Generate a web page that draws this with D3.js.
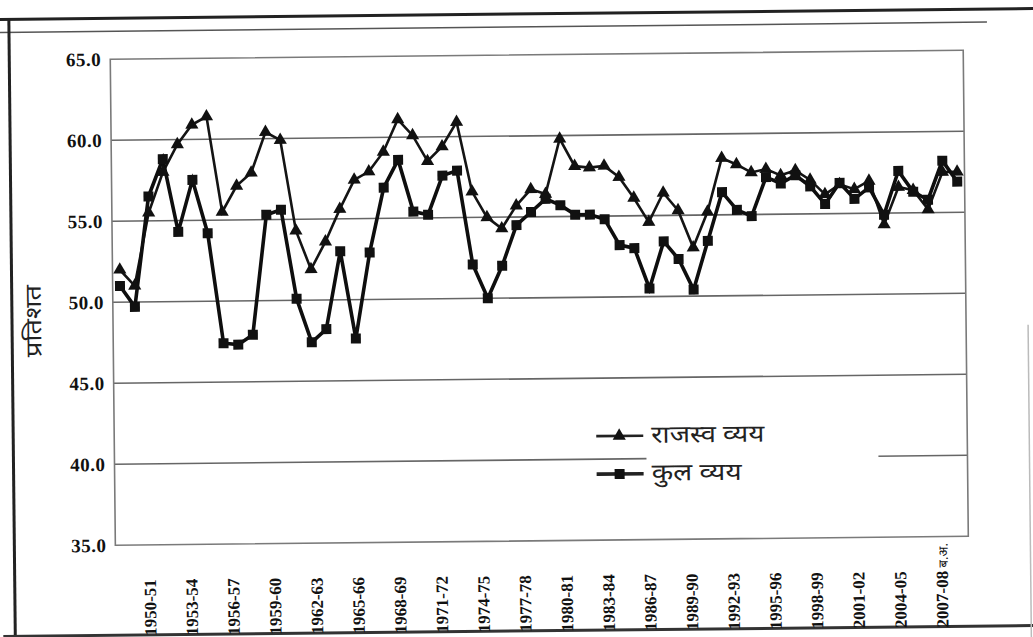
<!DOCTYPE html>
<html>
<head>
<meta charset="utf-8">
<script src="https://cdn.jsdelivr.net/npm/d3@7"></script>
<style>
  body { margin: 0; background: #fff; }
  svg { display: block; }
  .num { font-family: "Liberation Serif", "DejaVu Serif", serif; font-weight: bold; fill: #111; }
</style>
</head>
<body>
<div id="chart"></div>
<script>
// years on the x axis (last one is budget estimate)
var years = ["1950-51","1951-52","1952-53","1953-54","1954-55","1955-56","1956-57","1957-58","1958-59","1959-60",
  "1960-61","1961-62","1962-63","1963-64","1964-65","1965-66","1966-67","1967-68","1968-69","1969-70",
  "1970-71","1971-72","1972-73","1973-74","1974-75","1975-76","1976-77","1977-78","1978-79","1979-80",
  "1980-81","1981-82","1982-83","1983-84","1984-85","1985-86","1986-87","1987-88","1988-89","1989-90",
  "1990-91","1991-92","1992-93","1993-94","1994-95","1995-96","1996-97","1997-98","1998-99","1999-00",
  "2000-01","2001-02","2002-03","2003-04","2004-05","2005-06","2006-07","2007-08"];

// राजस्व व्यय (revenue expenditure), per cent
var revenueExp = [52.0,51.0,55.5,58.0,59.7,60.9,61.4,55.5,57.1,57.9,
  60.4,59.9,54.3,51.9,53.6,55.6,57.4,57.9,59.1,61.1,
  60.1,58.5,59.4,60.9,56.6,55.0,54.3,55.7,56.7,56.4,
  59.8,58.1,58.0,58.1,57.4,56.1,54.6,56.4,55.3,53.0,
  55.2,58.5,58.1,57.6,57.8,57.4,57.7,57.1,56.2,56.8,
  56.5,57.0,54.3,56.6,56.4,55.2,57.5,57.5];

// कुल व्यय (total expenditure), per cent
var totalExp = [51.0,49.7,56.5,58.8,54.3,57.5,54.2,47.4,47.3,47.9,
  55.3,55.6,50.1,47.4,48.2,53.0,47.6,52.9,56.9,58.6,
  55.4,55.2,57.6,57.9,52.1,50.0,52.0,54.5,55.3,56.1,
  55.7,55.1,55.1,54.8,53.2,53.0,50.5,53.4,52.3,50.4,
  53.4,56.4,55.3,54.9,57.3,56.9,57.4,56.7,55.6,56.9,
  55.9,56.6,54.9,57.6,56.3,55.8,58.2,56.9];

var xLabels = ["1950-51","1953-54","1956-57","1959-60","1962-63","1965-66","1968-69","1971-72","1974-75","1977-78",
  "1980-81","1983-84","1986-87","1989-90","1992-93","1995-96","1998-99","2001-02","2004-05","2007-08"];
var yTicks = [35, 40, 45, 50, 55, 60, 65];
var seriesNames = ["राजस्व व्यय", "कुल व्यय"];

var W = 1033, H = 637;
var pLeft = 113, pRight = 966, pTop = 55, pBottom = 541;
var devFont = "'Noto Sans Devanagari','Lohit Devanagari','Mangal','FreeSans','Noto Sans',sans-serif";

var svg = d3.select("#chart").append("svg")
    .attr("width", W).attr("height", H);

// the scan is a little skewed, so everything sits in a slightly turned group
var g = svg.append("g").attr("transform", "rotate(-0.6," + (W/2) + "," + (H/2) + ")");

// page frame lines
g.append("line").attr("x1", -20).attr("x2", W + 20).attr("y1", 14).attr("y2", 14)
    .attr("stroke", "#222").attr("stroke-width", 3);
g.append("line").attr("x1", -20).attr("x2", 990).attr("y1", 27).attr("y2", 27)
    .attr("stroke", "#555").attr("stroke-width", 1.5);
g.append("line").attr("x1", 12).attr("x2", 12).attr("y1", 14).attr("y2", H + 20)
    .attr("stroke", "#222").attr("stroke-width", 3);
g.append("line").attr("x1", 0).attr("x2", W + 20).attr("y1", 631).attr("y2", 631)
    .attr("stroke", "#333").attr("stroke-width", 3);
g.append("line").attr("x1", 1028).attr("x2", 1028).attr("y1", 330).attr("y2", H + 20)
    .attr("stroke", "#bbb").attr("stroke-width", 1.5);

var x = d3.scaleBand().domain(years).range([pLeft, pRight]).padding(0);
var cx = function(d) { return x(d) + x.bandwidth() / 2; };
var y = d3.scaleLinear().domain([35, 65]).range([pBottom, pTop]);
var labelX = d3.scalePoint().domain(xLabels).range([pLeft + 34, pRight - 27]);

// gridlines
g.append("g").selectAll("line").data(yTicks.slice(1, -1)).enter().append("line")
    .attr("x1", pLeft).attr("x2", pRight)
    .attr("y1", function(d) { return y(d); }).attr("y2", function(d) { return y(d); })
    .attr("stroke", "#666").attr("stroke-width", 1.6);

// plot border
g.append("rect").attr("x", pLeft).attr("y", pTop)
    .attr("width", pRight - pLeft).attr("height", pBottom - pTop)
    .attr("fill", "none").attr("stroke", "#7a7a7a").attr("stroke-width", 1.6);

// y axis labels
var yAxis = g.append("g").attr("transform", "translate(" + pLeft + ",0)")
    .call(d3.axisLeft(y).tickValues(yTicks).tickFormat(d3.format(".1f")).tickSize(0).tickPadding(9));
yAxis.select(".domain").remove();
yAxis.attr("font-family", null).attr("font-size", null);
yAxis.selectAll("text").attr("class", "num")
    .style("font-size", "19px").style("letter-spacing", "0.5px");

// y title
g.append("text")
    .attr("transform", "translate(41,316) rotate(-90)")
    .attr("text-anchor", "middle")
    .attr("font-family", devFont).attr("font-size", 22).attr("fill", "#222")
    .attr("textLength", 72).attr("lengthAdjust", "spacingAndGlyphs")
    .text("प्रतिशत");

// x labels, rotated
var xl = g.append("g").selectAll("text").data(xLabels).enter().append("text")
    .attr("class", "num")
    .attr("transform", function(d) { return "translate(" + labelX(d) + ",632) rotate(-90)"; })
    .attr("dy", "0.36em")
    .style("font-size", "17px")
    .text(function(d) { return d; });
xl.filter(function(d, i) { return i == xLabels.length - 1; })
    .append("tspan").style("font-weight", "normal").style("font-size", "13px")
    .style("font-family", devFont).text(" ब.अ.");

// lines + markers
var line = d3.line().x(function(d) { return cx(d.year); }).y(function(d) { return y(d.v); });
var revData = years.map(function(yr, i) { return {year: yr, v: revenueExp[i]}; });
var totData = years.map(function(yr, i) { return {year: yr, v: totalExp[i]}; });

g.append("path").datum(revData).attr("d", line)
    .attr("fill", "none").attr("stroke", "#141414").attr("stroke-width", 2.6);
g.append("path").datum(totData).attr("d", line)
    .attr("fill", "none").attr("stroke", "#0e0e0e").attr("stroke-width", 3.6);

var tri = d3.symbol().type(d3.symbolTriangle).size(75);
var sq = d3.symbol().type(d3.symbolSquare).size(100);

g.append("g").selectAll("path").data(revData).enter().append("path")
    .attr("d", tri)
    .attr("transform", function(d) { return "translate(" + cx(d.year) + "," + y(d.v) + ")"; })
    .attr("fill", "#111");
g.append("g").selectAll("path").data(totData).enter().append("path")
    .attr("d", sq)
    .attr("transform", function(d) { return "translate(" + cx(d.year) + "," + y(d.v) + ")"; })
    .attr("fill", "#111");

// legend
g.append("rect").attr("x", 645).attr("y", 418).attr("width", 232).attr("height", 76).attr("fill", "#fff");
var leg = g.append("g").selectAll("g").data(seriesNames).enter().append("g")
    .attr("transform", function(d, i) { return "translate(595," + (437 + i * 38) + ")"; });
leg.append("line").attr("x1", 0).attr("x2", 47).attr("y1", 0).attr("y2", 0)
    .attr("stroke", "#222").attr("stroke-width", function(d, i) { return i ? 3.6 : 2.6; });
leg.append("path")
    .attr("d", function(d, i) { return i ? sq() : tri(); })
    .attr("transform", "translate(23,0)").attr("fill", "#111");
leg.append("text").attr("x", 55).attr("dy", "0.3em")
    .attr("font-family", devFont).attr("font-size", 24).attr("fill", "#222")
    .attr("textLength", function(d, i) { return i ? 90 : 113; })
    .attr("lengthAdjust", "spacingAndGlyphs")
    .text(function(d) { return d; });
</script>
</body>
</html>
